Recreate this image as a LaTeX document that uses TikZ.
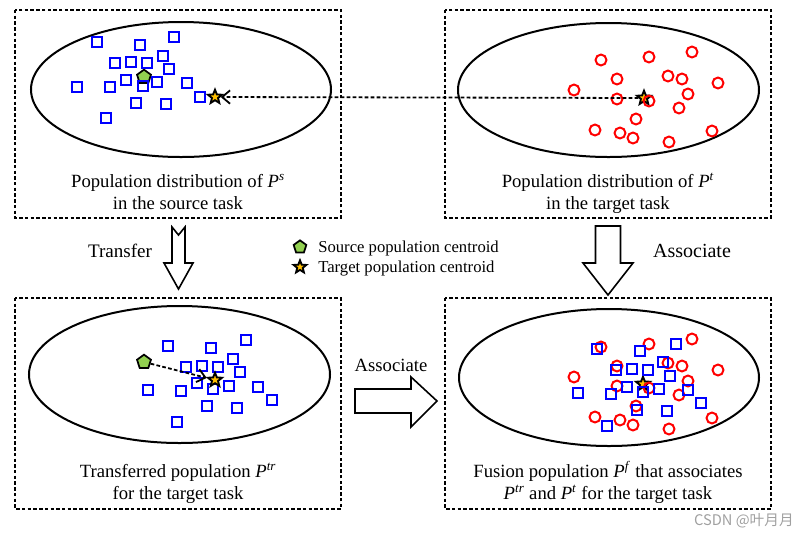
\documentclass[tikz,border=0pt]{standalone}
\usepackage{fontspec}
\setmainfont{Liberation Serif}
\newfontfamily\cjkfont{Noto Sans CJK SC}
\usetikzlibrary{shapes.geometric,arrows.meta}
\definecolor{sqblue}{RGB}{0,0,255}
\definecolor{cred}{RGB}{255,0,0}
\definecolor{pgreen}{RGB}{146,208,80}
\definecolor{sorange}{RGB}{255,192,0}
\definecolor{wmgray}{RGB}{160,160,160}
\newcommand\popP[1]{\textit{P}\textsuperscript{\textit{#1}}}
\begin{document}
\begin{tikzpicture}[x=0.75pt,y=-0.75pt,
  panel/.style={draw, line width=1.35pt, dash pattern=on 2.6pt off 1.7pt},
  ell/.style={draw, line width=1.5pt},
  sq/.style={rectangle, draw=sqblue, line width=1.5pt, minimum size=7.9pt, inner sep=0pt},
  circ/.style={circle, draw=cred, line width=1.5pt, minimum size=8.2pt, inner sep=0pt},
  cstar/.style={star, star points=5, star point ratio=2.3, draw=black, fill=sorange, line width=1.4pt, minimum size=11pt, inner sep=0pt},
  cpent/.style={regular polygon, regular polygon sides=5, draw=black, fill=pgreen, line width=1.3pt, minimum size=11pt, inner sep=0pt},
  conn/.style={line width=1.35pt, dash pattern=on 2.8pt off 1.7pt, -{Straight Barb[length=6pt,width=10pt]}},
  blockarrow/.style={draw, line width=1.2pt, fill=white, line join=miter},
  lbl/.style={font=\fontsize{14}{16}\selectfont, inner sep=0pt, anchor=base},
  leg/.style={font=\fontsize{12.5}{14}\selectfont, inner sep=0pt, anchor=base west},
]
\useasboundingbox (0,0) rectangle (808,537);

% panels
\draw[panel] (15,10) rectangle (341,218);
\draw[panel] (445,10) rectangle (771,218);
\draw[panel] (15,298) rectangle (341,509);
\draw[panel] (445,298) rectangle (771,509);

% ellipses
\draw[ell] (181,89.5) ellipse [x radius=150, y radius=67.5];
\draw[ell] (608.5,90) ellipse [x radius=150.5, y radius=67];
\draw[ell] (179.5,374.5) ellipse [x radius=150.5, y radius=68.5];
\draw[ell] (609,377.5) ellipse [x radius=150, y radius=68.5];

% top-left: source population
\node[cpent] (tlpent) at (144,77) {};
\foreach \p [count=\i] in {(97,42),(140,45),(174,37),(163,56),(115,63),(131,62),(147,63),(169,69),(126,80),(157,82),(143,86),(187,83),(77,87),(110,87),(200,97),(136,103),(166,104),(106,118)}
  \node[sq] (tlsq\i) at \p {};
\node[cstar] (tlstar) at (215,97) {};

% top-right: target population
\node[cstar] (trstar) at (644,98) {};
\foreach \p [count=\i] in {(601,60),(649,57),(692,52),(617,79),(668,76),(682,79),(718,83),(574,90),(688,94),(617,99),(649,101),(679,108),(636,119),(595,130),(620,133),(633,138),(669,142),(712,131)}
  \node[circ] (trc\i) at \p {};

% bottom-left: transferred population
\node[cpent] (blpent) at (144,362) {};
\foreach \p [count=\i] in {(168,346),(211,348),(246,340),(233,359),(186,367),(202,366),(218,367),(240,372),(197,383),(213,389),(229,386),(258,387),(148,390),(181,391),(272,400),(207,406),(237,408),(177,422)}
  \node[sq] (blsq\i) at \p {};
\node[cstar] (blstar) at (215,380) {};

% bottom-right: fusion population
\node[cstar] (brstar) at (643,384) {};
\foreach \p [count=\i] in {(601,347),(649,344),(692,339),(617,366),(668,363),(682,366),(718,370),(574,377),(688,381),(617,386),(649,388),(679,395),(636,406),(595,417),(620,420),(633,425),(669,429),(712,418)}
  \node[circ] (brc\i) at \p {};
\foreach \p [count=\i] in {(597,349),(640,351),(676,344),(663,362),(616,370),(632,369),(648,370),(670,376),(627,387),(643,392),(659,389),(688,390),(578,393),(611,394),(701,403),(637,410),(667,411),(607,426)}
  \node[sq] (brsq\i) at \p {};

% connectors
\draw[conn] (trstar) -- (tlstar);
\draw[conn] (blpent) -- (blstar);

% block arrows
\draw[blockarrow] (172,227) -- (178.5,235) -- (185,227) -- (185,263) -- (193,263) -- (178.5,289) -- (164,263) -- (172,263) -- cycle;
\draw[blockarrow] (595.5,226) -- (620.5,226) -- (620.5,263) -- (633,263) -- (608,295) -- (583,263) -- (595.5,263) -- cycle;
\draw[blockarrow] (355,389) -- (411,389) -- (411,377) -- (437,401) -- (411,427) -- (411,413) -- (355,413) -- cycle;

% labels
\node[lbl] (tlt1) at (178,187) {Population distribution of \popP{s}};
\node[lbl] (tlt2) at (178,209) {in the source task};
\node[lbl] (trt1) at (608,187) {Population distribution of \popP{t}};
\node[lbl] (trt2) at (608,209) {in the target task};
\node[lbl] (blt1) at (178,477) {Transferred population \popP{tr}};
\node[lbl] (blt2) at (178,499) {for the target task};
\node[lbl] (brt1) at (608,477) {Fusion population \popP{f} that associates};
\node[lbl] (brt2) at (608,499) {\popP{tr} and \popP{t} for the target task};

\node[lbl, font=\fontsize{14.3}{16}\selectfont] (transfer) at (120,257) {Transfer};
\node[lbl, font=\fontsize{15}{17}\selectfont] (assocr) at (692,257) {Associate};
\node[lbl, font=\fontsize{14}{16}\selectfont] (assocb) at (391,371) {Associate};

% legend
\node[cpent, minimum size=10pt] (legpent) at (300,247) {};
\node[leg] (legsrc) at (318,252) {Source population centroid};
\node[cstar, minimum size=10pt] (legstar) at (300,267) {};
\node[leg] (legtgt) at (318,272) {Target population centroid};

% watermark
\node[inner sep=0pt, anchor=base east, text=wmgray, font=\cjkfont\fontsize{11}{13}\selectfont] (wm) at (794,525) {CSDN @叶月月};
\end{tikzpicture}
\end{document}
